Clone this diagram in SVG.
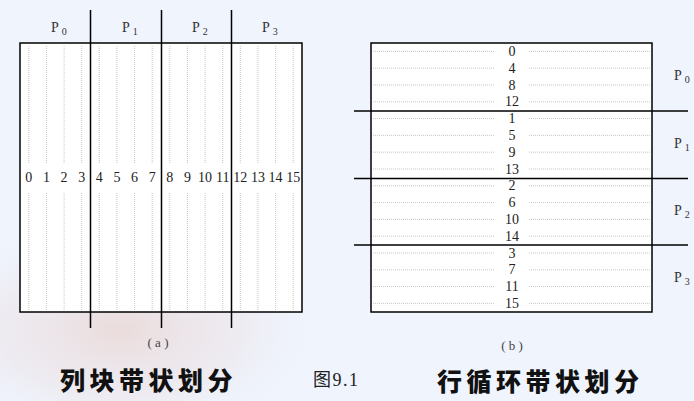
<svg xmlns="http://www.w3.org/2000/svg" width="694" height="401" viewBox="0 0 694 401">
<defs>
<radialGradient id="bgPink" cx="0.5" cy="0.5" r="0.5">
<stop offset="0" stop-color="#ead9d8" stop-opacity="0.9"/>
<stop offset="0.6" stop-color="#ece2e6" stop-opacity="0.5"/>
<stop offset="1" stop-color="#eef3fc" stop-opacity="0"/>
</radialGradient>
<style>
.num{font-family:'Liberation Serif','Times New Roman','DejaVu Serif',serif;font-size:14px;fill:#222;text-anchor:middle}
.lab{font-family:'Liberation Serif','Times New Roman','DejaVu Serif',serif;font-size:14px;fill:#333}
.sub{font-size:10px}
.cap{font-family:'Liberation Serif','Times New Roman','DejaVu Serif',serif;font-size:13px;fill:#444;text-anchor:middle}
.title{font-family:'Noto Sans CJK SC','Noto Sans CJK JP',sans-serif;font-weight:900;font-size:25px;fill:#111;letter-spacing:4.5px}
.fig{font-family:'Liberation Serif','Noto Sans CJK SC',serif;font-size:18px;fill:#222;letter-spacing:1.5px}
.box{fill:#fff;stroke:#000;stroke-width:1.5}
.div{stroke:#000;stroke-width:1.5;fill:none}
.dot{stroke:#b8b8b8;stroke-width:0.8;stroke-dasharray:1 1;fill:none}
</style>
</defs>
<rect width="694" height="401" fill="#eff4fd"/>
<ellipse cx="120" cy="330" rx="200" ry="110" fill="url(#bgPink)"/>

<g id="panel-a">
<rect class="box" x="20" y="43" width="282" height="269"/>
<g id="a-dots">
<path class="dot" d="M28.8 46V163M28.8 193V310M46.4 46V163M46.4 193V310M64.1 46V163M64.1 193V310M81.7 46V163M81.7 193V310M99.3 46V163M99.3 193V310M116.9 46V163M116.9 193V310M134.6 46V163M134.6 193V310M152.2 46V163M152.2 193V310M169.8 46V163M169.8 193V310M187.4 46V163M187.4 193V310M205.1 46V163M205.1 193V310M222.7 46V163M222.7 193V310M240.3 46V163M240.3 193V310M257.9 46V163M257.9 193V310M275.6 46V163M275.6 193V310M293.2 46V163M293.2 193V310"/>
</g>
<g id="a-nums">
<text class="num" x="28.8" y="182">0</text>
<text class="num" x="46.4" y="182">1</text>
<text class="num" x="64.1" y="182">2</text>
<text class="num" x="81.7" y="182">3</text>
<text class="num" x="99.3" y="182">4</text>
<text class="num" x="116.9" y="182">5</text>
<text class="num" x="134.6" y="182">6</text>
<text class="num" x="152.2" y="182">7</text>
<text class="num" x="169.8" y="182">8</text>
<text class="num" x="187.4" y="182">9</text>
<text class="num" x="205.1" y="182">10</text>
<text class="num" x="222.7" y="182">11</text>
<text class="num" x="240.3" y="182">12</text>
<text class="num" x="257.9" y="182">13</text>
<text class="num" x="275.6" y="182">14</text>
<text class="num" x="293.2" y="182">15</text>
</g>
<g id="a-dividers">
<path class="div" d="M90.5 10V328M161.5 10V328M231.5 10V328"/>
</g>
<g id="a-labels">
<text class="lab" x="51" y="32">P<tspan class="sub" dx="3" dy="3">0</tspan></text>
<text class="lab" x="122" y="32">P<tspan class="sub" dx="3" dy="3">1</tspan></text>
<text class="lab" x="192" y="32">P<tspan class="sub" dx="3" dy="3">2</tspan></text>
<text class="lab" x="262" y="32">P<tspan class="sub" dx="3" dy="3">3</tspan></text>
</g>
<text class="cap" x="158" y="347">( a )</text>
</g>

<g id="panel-b">
<rect class="box" x="371" y="43" width="281" height="269"/>
<g id="b-dots">
<path class="dot" d="M373 51.4H495M529 51.4H650M373 68.2H495M529 68.2H650M373 85H495M529 85H650M373 101.8H495M529 101.8H650M373 118.6H495M529 118.6H650M373 135.4H495M529 135.4H650M373 152.2H495M529 152.2H650M373 169H495M529 169H650M373 185.8H495M529 185.8H650M373 202.6H495M529 202.6H650M373 219.4H495M529 219.4H650M373 236.2H495M529 236.2H650M373 253H495M529 253H650M373 269.8H495M529 269.8H650M373 286.6H495M529 286.6H650M373 303.4H495M529 303.4H650"/>
</g>
<g id="b-nums">
<text class="num" x="512" y="56">0</text>
<text class="num" x="512" y="72.8">4</text>
<text class="num" x="512" y="89.6">8</text>
<text class="num" x="512" y="106.4">12</text>
<text class="num" x="512" y="123.2">1</text>
<text class="num" x="512" y="140">5</text>
<text class="num" x="512" y="156.8">9</text>
<text class="num" x="512" y="173.6">13</text>
<text class="num" x="512" y="190.4">2</text>
<text class="num" x="512" y="207.2">6</text>
<text class="num" x="512" y="224">10</text>
<text class="num" x="512" y="240.8">14</text>
<text class="num" x="512" y="257.6">3</text>
<text class="num" x="512" y="274.4">7</text>
<text class="num" x="512" y="291.2">11</text>
<text class="num" x="512" y="308">15</text>
</g>
<g id="b-dividers">
<path class="div" d="M354 111H688M354 178.5H688M354 245H688"/>
</g>
<g id="b-labels">
<text class="lab" x="674" y="80">P<tspan class="sub" dx="3" dy="3">0</tspan></text>
<text class="lab" x="674" y="148">P<tspan class="sub" dx="3" dy="3">1</tspan></text>
<text class="lab" x="674" y="215">P<tspan class="sub" dx="3" dy="3">2</tspan></text>
<text class="lab" x="674" y="282">P<tspan class="sub" dx="3" dy="3">3</tspan></text>
</g>
<text class="cap" x="512" y="350">( b )</text>
</g>

<g id="captions">
<text class="title" x="60" y="390">列块带状划分</text>
<text class="fig" x="313" y="386">图9.1</text>
<text class="title" x="437" y="391">行循环带状划分</text>
</g>
</svg>
